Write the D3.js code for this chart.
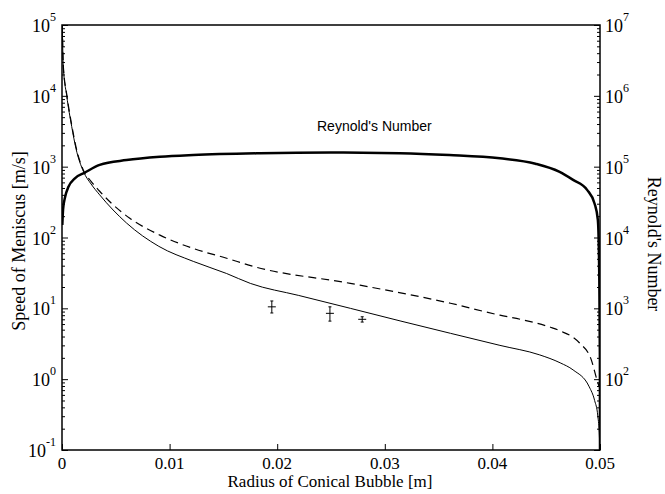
<!DOCTYPE html>
<html lang="en">
<head>
<meta charset="UTF-8">
<title>Speed of Meniscus and Reynold's Number</title>
<script src="https://cdn.jsdelivr.net/npm/d3@7"></script>
<style>
  body { margin: 0; background: #fff; }
</style>
</head>
<body>
<script>
// radius [m] and speed [m/s], solid model curve
const solidR = [0.00003, 0.00012, 0.00044, 0.0009, 0.0013, 0.002, 0.0027, 0.0035, 0.006, 0.009, 0.0122, 0.0153, 0.0175, 0.022, 0.0268, 0.0315, 0.0361, 0.0407, 0.0444, 0.0463, 0.0475, 0.049, 0.0495, 0.0498, 0.04995, 0.05];
const solidV = [95000, 26000, 10000, 3700, 1800, 850, 570, 400, 160, 75, 46, 31, 22.5, 15.2, 10.0, 6.6, 4.44, 3.0, 2.2, 1.7, 1.35, 0.78, 0.5, 0.3, 0.15, 0.08];

// dashed model curve
const dashR = [0.00003, 0.00012, 0.00044, 0.0009, 0.0013, 0.002, 0.0027, 0.0035, 0.0046, 0.0063, 0.0091, 0.0122, 0.0153, 0.0178, 0.0268, 0.0361, 0.0407, 0.0426, 0.0454, 0.0463, 0.0481, 0.0492, 0.0497, 0.0499];
const dashV = [97000, 27000, 10500, 3900, 1900, 880, 620, 450, 304, 187, 108, 70, 51, 39, 22.5, 11.8, 8.0, 7.0, 5.4, 4.8, 3.24, 1.86, 1.0, 0.8];

// Reynold's number (right axis)
const reR = [0.00003, 0.0001, 0.0003, 0.0006, 0.0012, 0.0021, 0.0035, 0.006, 0.0091, 0.0122, 0.0184, 0.025, 0.0314, 0.036, 0.0407, 0.044, 0.0462, 0.0475, 0.0488, 0.0495, 0.0498, 0.04993, 0.04999, 0.05];
const reV = [15000, 25000, 38000, 52000, 68500, 82000, 106000, 124000, 138000, 146000, 154500, 158000, 155000, 146000, 131000, 110000, 85000, 65000, 47000, 30000, 17700, 3000, 200, 10];

// experiments: radius, speed, error range
const expR = [0.0195, 0.0249, 0.0279];
const expV = [10.5, 8.5, 7.0];
const expLo = [8.6, 6.6, 6.4];
const expHi = [12.7, 10.5, 7.6];

const xTicks = [0, 0.01, 0.02, 0.03, 0.04, 0.05];
const leftExps = [-1, 0, 1, 2, 3, 4, 5];
const rightExps = [2, 3, 4, 5, 6, 7];

const serif = "Liberation Serif, Times New Roman, serif";
const sans = "Liberation Sans, Arial, sans-serif";

const W = 665, H = 494;
const m = { left: 62, top: 25, right: 65, bottom: 44 };
const pw = W - m.left - m.right, ph = H - m.top - m.bottom;

const svg = d3.select("body").append("svg")
  .attr("width", W).attr("height", H);

const x = d3.scaleLinear().domain([0, 0.05]).range([0, pw]);
const yL = d3.scaleLog().domain([0.1, 1e5]).range([ph, 0]);
const yR = d3.scaleLog().domain([10, 1e7]).range([ph, 0]);

const g = svg.append("g").attr("transform", `translate(${m.left},${m.top})`);

g.append("clipPath").attr("id", "clip")
  .append("rect").attr("width", pw).attr("height", ph);

// minor tick values for a log domain
function minors(lo, hi) {
  const out = [];
  for (let e = lo; e < hi; e++)
    for (let k = 2; k <= 9; k++) out.push(k * Math.pow(10, e));
  return out;
}

// axes: ticks point inward
g.append("g").attr("class", "ax")
  .call(d3.axisLeft(yL).tickValues(leftExps.map(e => Math.pow(10, e))).tickSize(-6).tickFormat(""));
g.append("g").attr("class", "ax")
  .call(d3.axisLeft(yL).tickValues(minors(-1, 5)).tickSize(-3).tickFormat(""));
g.append("g").attr("class", "ax").attr("transform", `translate(${pw},0)`)
  .call(d3.axisRight(yR).tickValues([1, 2, 3, 4, 5, 6, 7].map(e => Math.pow(10, e))).tickSize(-6).tickFormat(""));
g.append("g").attr("class", "ax").attr("transform", `translate(${pw},0)`)
  .call(d3.axisRight(yR).tickValues(minors(1, 7)).tickSize(-3).tickFormat(""));
g.append("g").attr("class", "ax").attr("transform", `translate(0,${ph})`)
  .call(d3.axisBottom(x).tickValues(xTicks).tickSize(-6).tickFormat(""));

g.selectAll(".ax path").remove();
g.selectAll(".ax line").attr("stroke", "#000").attr("stroke-width", 1);

// frame
g.append("rect").attr("width", pw).attr("height", ph)
  .attr("fill", "none").attr("stroke", "#000").attr("stroke-width", 1.5);

// tick labels: 10 with a raised exponent
function powLabel(sel, xPos, yPos, exp, anchorRight) {
  const t = sel.append("text").attr("y", yPos)
    .attr("font-family", serif).attr("font-size", 18).attr("x", xPos);
  if (anchorRight) t.attr("text-anchor", "end");
  t.append("tspan").text("10");
  t.append("tspan").attr("dy", -11).attr("font-size", 12).text(exp);
}
leftExps.forEach(e => powLabel(g, -6, yL(Math.pow(10, e)) + 7, e, true));
rightExps.forEach(e => powLabel(g, pw + 5, yR(Math.pow(10, e)) + 7, e, false));

g.selectAll(".xl").data(xTicks).enter().append("text")
  .attr("class", "xl")
  .attr("x", d => x(d)).attr("y", ph + 19)
  .attr("text-anchor", "middle")
  .attr("font-family", serif).attr("font-size", 17)
  .text(d => d === 0 ? "0" : d.toFixed(2));

// axis titles
svg.append("text").attr("x", m.left + pw / 2 - 1).attr("y", H - 7)
  .attr("text-anchor", "middle")
  .attr("font-family", serif).attr("font-size", 17)
  .text("Radius of Conical Bubble [m]");
svg.append("text")
  .attr("transform", `translate(25,241) rotate(-90)`)
  .attr("text-anchor", "middle")
  .attr("font-family", serif).attr("font-size", 18)
  .text("Speed of Meniscus [m/s]");
svg.append("text")
  .attr("transform", `translate(648,244) rotate(90)`)
  .attr("text-anchor", "middle")
  .attr("font-family", serif).attr("font-size", 18)
  .text("Reynold's Number");

// curves
const plot = g.append("g").attr("clip-path", "url(#clip)");
const lineL = d3.line().x(d => x(d[0])).y(d => yL(d[1])).curve(d3.curveMonotoneX);
const lineR = d3.line().x(d => x(d[0])).y(d => yR(d[1])).curve(d3.curveMonotoneX);

plot.append("path").datum(d3.zip(solidR, solidV))
  .attr("d", lineL).attr("fill", "none").attr("stroke", "#000").attr("stroke-width", 1);
plot.append("path").datum(d3.zip(dashR, dashV))
  .attr("d", lineL).attr("fill", "none").attr("stroke", "#000").attr("stroke-width", 1.2)
  .attr("stroke-dasharray", "8,5");
plot.append("path").datum(d3.zip(reR, reV))
  .attr("d", lineR).attr("fill", "none").attr("stroke", "#000").attr("stroke-width", 2.5);

g.append("text").attr("x", x(0.0237)).attr("y", yR(1.58e5) - 22)
  .attr("font-family", sans).attr("font-size", 14)
  .text("Reynold's Number");

// experimental points with error bars
const pts = g.selectAll(".pt").data(d3.range(expR.length)).enter().append("g");
pts.append("line")
  .attr("x1", i => x(expR[i])).attr("x2", i => x(expR[i]))
  .attr("y1", i => yL(expLo[i])).attr("y2", i => yL(expHi[i]))
  .attr("stroke", "#000");
pts.append("line")
  .attr("x1", i => x(expR[i]) - 4).attr("x2", i => x(expR[i]) + 4)
  .attr("y1", i => yL(expV[i])).attr("y2", i => yL(expV[i]))
  .attr("stroke", "#000");
[expLo, expHi].forEach(arr => {
  pts.append("line")
    .attr("x1", i => x(expR[i]) - 1.5).attr("x2", i => x(expR[i]) + 1.5)
    .attr("y1", i => yL(arr[i])).attr("y2", i => yL(arr[i]))
    .attr("stroke", "#000");
});
</script>
</body>
</html>
